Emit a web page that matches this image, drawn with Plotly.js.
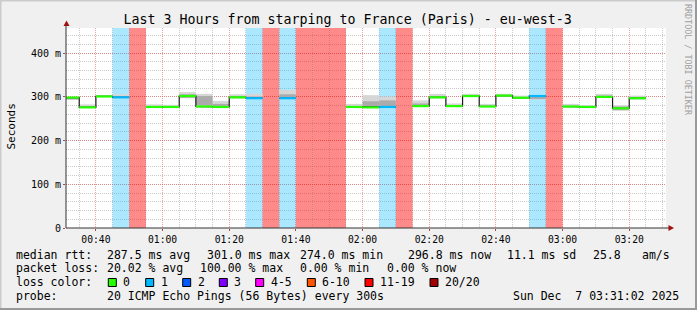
<!DOCTYPE html>
<html><head><meta charset="utf-8">
<script src="https://cdn.plot.ly/plotly-3.0.1.min.js"></script>
<style>html,body{margin:0;padding:0;background:#f0f0f0;}#chart{width:697px;height:310px;}</style>
</head><body><div id="chart"></div>
<script>
// ---------- data ----------
const intervalStart = ['00:30','00:35','00:40','00:45','00:50','00:55','01:00','01:05','01:10','01:15','01:20','01:25','01:30','01:35','01:40','01:45','01:50','01:55','02:00','02:05','02:10','02:15','02:20','02:25','02:30','02:35','02:40','02:45','02:50','02:55','03:00','03:05','03:10','03:15','03:20'];
const medianMs  = [298.5,276,301,299,null,277,277,302,278,277,299,297,null,297,null,null,null,277,276,277,null,279,299,279,302,278,303,298,302,null,278,277,300,274,297];
const lossCount = [0,0,0,1,20,0,0,0,0,0,0,1,20,1,20,20,20,0,0,1,20,0,0,0,0,0,0,0,1,20,0,0,0,0,0];
const smokeLoMs = [294,276,300,297,null,276,276,297,275,276,297,295,null,295,null,null,null,276,275,276,null,277,297,278,300,277,301,297,294,null,276,276,298,268,294];
const smokeHiMs = [299,283,304,306,null,283,282,311,307,291,306,307,null,316,null,null,null,284,304,301,null,292,307,285,307,284,307,303,303,null,284,281,307,281,303];
const coreLoMs  = [294,276,300,298,null,276,276,298,280,277,297,296,null,296,null,null,null,276,276,277,null,277,297,278,300,277,301,297,295,null,276,276,299,270,295];
const coreHiMs  = [298,279,302,302,null,279,279,306,302,284,301,301,null,306,null,null,null,279,290,292,null,285,302,281,304,281,305,300,301,null,280,278,303,278,300];

const yTickVals = [0,0.1,0.2,0.3,0.4];
const yTickText = ['0','100 m','200 m','300 m','400 m'];

const titleText = 'Last 3 Hours from starping to France (Paris) - eu-west-3';
const rttStats  = ['287.5 ms avg','301.0 ms max','274.0 ms min','296.8 ms now','11.1 ms sd','25.8','am/s'];
const lossStats = ['20.02 % avg','100.00 % max','0.00 % min','0.00 % now'];
const lossLabels = ['0','1','2','3','4-5','6-10','11-19','20/20'];
const lossMin    = [0,1,2,3,4,6,11,20];
const lossMax    = [0,1,2,3,5,10,19,20];
const lossColors = ['#26ff00','#00b8ff','#0059ff','#7e00ff','#ff00ff','#ff5500','#ff0000','#a10000'];
const lossBg     = ['rgba(0,0,0,0)','rgba(0,184,255,0.33)','rgba(0,89,255,0.33)','rgba(126,0,255,0.33)','rgba(255,0,255,0.4)','rgba(255,85,0,0.45)','rgba(255,0,0,0.46)','rgba(255,0,0,0.46)'];
const probeText = '20 ICMP Echo Pings (56 Bytes) every 300s';
const dateText  = 'Sun Dec\u00a0\u00a07 03:31:02 2025';

// ---------- derived ----------
const STEP = 300000;
const toMs = t => { const p = t.split(':').map(Number); return Date.UTC(2025,11,7,p[0],p[1],0); };
const starts = intervalStart.map(toMs);
const ends = starts.map(s => s + STEP);
const centers = starts.map(s => s + STEP/2);
const Y_TOP = 0.4577;
const xRange = [Date.UTC(2025,11,7,0,31,2), Date.UTC(2025,11,7,3,31,2)];
const cls = l => { for (let k=0;k<lossMin.length;k++) if (l>=lossMin[k] && l<=lossMax[k]) return k; return 0; };

const traces = [];
// loss background columns
traces.push({type:'bar', x:centers, width:starts.map(()=>STEP),
  y: lossCount.map(l => l>0 ? Y_TOP : null),
  marker:{color: lossCount.map(l => lossBg[cls(l)]), line:{width:0}}, hoverinfo:'skip'});
// smoke (outer)
traces.push({type:'bar', x:centers, width:starts.map(()=>STEP),
  base: smokeLoMs.map(v => v==null?null:v/1000),
  y: smokeHiMs.map((v,i) => v==null?null:(v-smokeLoMs[i])/1000),
  marker:{color:'#d6d6d6', line:{width:0}}, hoverinfo:'skip'});
// smoke (core)
traces.push({type:'bar', x:centers, width:starts.map(()=>STEP),
  base: coreLoMs.map(v => v==null?null:v/1000),
  y: coreHiMs.map((v,i) => v==null?null:(v-coreLoMs[i])/1000),
  marker:{color:'#ababab', line:{width:0}}, hoverinfo:'skip'});
// step line
{ const sx=[], sy=[];
  medianMs.forEach((v,i) => { if (v==null){ sx.push(starts[i]); sy.push(null); } else { sx.push(starts[i], ends[i]); sy.push(v/1000, v/1000); } });
  traces.push({type:'scatter', mode:'lines', x:sx, y:sy, line:{color:'#1a1a1a', width:1.2}, connectgaps:false, hoverinfo:'skip'});
}
// coloured median segments by loss class
lossColors.forEach((c,k) => {
  const sx=[], sy=[];
  medianMs.forEach((v,i) => { if (v!=null && cls(lossCount[i])===k){ sx.push(starts[i], ends[i], null); sy.push(v/1000, v/1000, null); } });
  if (sx.length) traces.push({type:'scatter', mode:'lines', x:sx, y:sy, line:{color:c, width:2.2}, connectgaps:false, hoverinfo:'skip'});
});

// ---------- layout helpers ----------
const PX = px => (px-66)/600, PY = py => (228-py)/200;
const MONO = 'DejaVu Sans Mono';
const ann = [];
const T = (s, px, py, size, color, extra) => ann.push(Object.assign({text:s, x:PX(px), y:PY(py), xref:'paper', yref:'paper', xanchor:'left', yanchor:'middle', showarrow:false, borderpad:0, borderwidth:0, font:{family:MONO, size:size||11.5, color:color||'#000'}}, extra||{}));

T('median rtt:', 16, 254.5);
[107.3,207.3,300,407.7,506.7,593.3,641.7].forEach((x,i)=>T(rttStats[i], x, 254.5));
T('packet loss:', 16, 268.3);
[107.3,200,300,386.7].forEach((x,i)=>T(lossStats[i], x, 268.3));
T('loss color:', 16, 282.3);
const boxX = [108.3,145.7,182.7,219.3,255.7,307.3,365,430];
const shapes = [];
boxX.forEach((bx,k) => {
  shapes.push({type:'rect', xref:'paper', yref:'paper', x0:PX(bx), x1:PX(bx+8), y0:PY(278.5), y1:PY(286.5), fillcolor:lossColors[k], line:{color:'#000', width:1}});
  T(lossLabels[k], bx+15, 282.3);
});
T('probe:', 16, 296);
T(probeText, 107.3, 296);
T(dateText, 513.3, 296);
// side & axis title
T('Seconds', 10.5, 127, 11, '#000', {xanchor:'center', textangle:-90});
T('RRDTOOL / TOBI OETIKER', 688, 60, 8.4, '#a0a0a0', {xanchor:'center', textangle:90});

// axes lines and arrows
shapes.push({type:'line', xref:'paper', yref:'paper', x0:PX(66), x1:PX(66), y0:PY(228), y1:PY(25), line:{color:'#333', width:1}});
shapes.push({type:'line', xref:'paper', yref:'paper', x0:PX(66), x1:PX(670), y0:PY(228), y1:PY(228), line:{color:'#333', width:1}});
shapes.push({type:'path', xref:'paper', yref:'paper', path:`M ${PX(63.5)},${PY(26)} L ${PX(69.5)},${PY(26)} L ${PX(66.5)},${PY(20.5)} Z`, fillcolor:'#a01010', line:{width:0}});
shapes.push({type:'path', xref:'paper', yref:'paper', path:`M ${PX(668.5)},${PY(225)} L ${PX(668.5)},${PY(231)} L ${PX(674)},${PY(228)} Z`, fillcolor:'#a01010', line:{width:0}});
// image frame
shapes.push({type:'line', xref:'paper', yref:'paper', x0:PX(0), x1:PX(697), y0:PY(0.5), y1:PY(0.5), line:{color:'#cbcbcb', width:2}});
shapes.push({type:'line', xref:'paper', yref:'paper', x0:PX(0.5), x1:PX(0.5), y0:PY(0), y1:PY(310), line:{color:'#cbcbcb', width:2}});
shapes.push({type:'line', xref:'paper', yref:'paper', x0:PX(0), x1:PX(697), y0:PY(309), y1:PY(309), line:{color:'#999', width:2}});
shapes.push({type:'line', xref:'paper', yref:'paper', x0:PX(696), x1:PX(696), y0:PY(0), y1:PY(310), line:{color:'#999', width:2}});

const majorGrid = 'rgba(230,80,80,0.55)';
const minorGrid = 'rgba(140,140,140,0.45)';
const layout = {
  width:697, height:310,
  margin:{l:66, r:31, t:28, b:82, pad:0},
  paper_bgcolor:'#f0f0f0', plot_bgcolor:'#ffffff',
  showlegend:false, barmode:'overlay', hovermode:false,
  title:{text:titleText, font:{family:MONO, size:13.3, color:'#000'}, xref:'container', yref:'container', x:347.6/697, xanchor:'center', y:1-19/310, yanchor:'middle'},
  xaxis:{type:'date', range:xRange, tick0:'2025-12-07 00:00:00', dtick:1200000, tickformat:'%H:%M',
    showgrid:true, gridcolor:majorGrid, griddash:'1px,1px', gridwidth:1,
    minor:{dtick:300000, tick0:'2025-12-07 00:00:00', showgrid:true, gridcolor:minorGrid, griddash:'1px,1px', gridwidth:1},
    ticks:'outside', ticklen:2, tickcolor:'#c04040', zeroline:false, showline:false,
    tickfont:{family:MONO, size:9.7, color:'#000'}, fixedrange:true},
  yaxis:{range:[0,Y_TOP], tickmode:'array', tickvals:yTickVals, ticktext:yTickText,
    showgrid:true, gridcolor:majorGrid, griddash:'1px,1px', gridwidth:1,
    minor:{dtick:0.02, tick0:0, showgrid:true, gridcolor:minorGrid, griddash:'1px,1px', gridwidth:1},
    ticks:'outside', ticklen:2, tickcolor:'#c04040', zeroline:false, showline:false,
    tickfont:{family:MONO, size:10, color:'#000'}, fixedrange:true},
  annotations:ann, shapes:shapes
};
Plotly.newPlot('chart', traces, layout, {staticPlot:true, displayModeBar:false});
</script></body></html>
